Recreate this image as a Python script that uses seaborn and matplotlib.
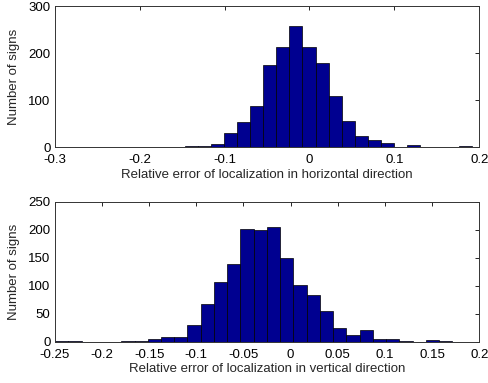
import numpy as np
import pandas as pd
import matplotlib
matplotlib.use("Agg")
import matplotlib.pyplot as plt
import seaborn as sns

# Histogram counts (30 bins each)
horiz_counts = [1, 0, 0, 0, 1, 1, 0, 1, 2, 3, 6, 30, 53, 87, 174, 212, 257, 213,
                179, 108, 56, 23, 16, 8, 1, 4, 0, 1, 0, 3]
vert_counts = [1, 1, 0, 0, 0, 1, 1, 5, 8, 9, 29, 67, 107, 138, 201, 199, 204, 149,
               101, 83, 55, 25, 12, 20, 5, 4, 1, 0, 3, 1]

# Data range of each histogram (min, max)
horiz_range = (-0.27, 0.192)
vert_range = (-0.2497, 0.1715)

horiz_xticks = [-0.3, -0.2, -0.1, 0, 0.1, 0.2]
horiz_yticks = [0, 100, 200, 300]
vert_xticks = [-0.25, -0.2, -0.15, -0.1, -0.05, 0, 0.05, 0.1, 0.15, 0.2]
vert_yticks = [0, 50, 100, 150, 200, 250]

sns.set_style("white")
plt.rcParams["font.family"] = ["Liberation Sans", "DejaVu Sans"]
plt.rcParams["axes.unicode_minus"] = False

FACE = "#000090"
FS = 9.5

fig = plt.figure(figsize=(4.89, 3.83), dpi=100)
ax1 = fig.add_axes([0.112, 0.616, 0.868, 0.368])
ax2 = fig.add_axes([0.112, 0.108, 0.868, 0.3655])


def fmt(v):
    return f"{v:g}"


def draw(ax, counts, rng, xticks, yticks, xlabel):
    edges = np.linspace(rng[0], rng[1], len(counts) + 1)
    centers = (edges[:-1] + edges[1:]) / 2
    df = pd.DataFrame({"x": centers, "n": counts})
    sns.histplot(data=df, x="x", weights="n", bins=list(edges), ax=ax,
                 color=FACE, alpha=1, edgecolor="black", linewidth=0.5)
    ax.set_xlim(xticks[0], xticks[-1])
    ax.set_ylim(yticks[0], yticks[-1])
    ax.set_xticks(xticks)
    ax.set_xticklabels([fmt(v) for v in xticks])
    ax.set_yticks(yticks)
    ax.set_yticklabels([fmt(v) for v in yticks], va="center_baseline")
    ax.tick_params(direction="in", length=3, width=0.6, top=True, right=True,
                   labelsize=FS, colors="black")
    ax.tick_params(axis="x", pad=5)
    ax.tick_params(axis="y", pad=3)
    for sp in ax.spines.values():
        sp.set_visible(True)
        sp.set_color("#333333")
        sp.set_linewidth(0.7)
    ax.set_xlabel(xlabel, fontsize=FS, labelpad=2)
    ax.set_ylabel("Number of signs", fontsize=FS, labelpad=6)


draw(ax1, horiz_counts, horiz_range, horiz_xticks, horiz_yticks,
     "Relative error of localization in horizontal direction")
draw(ax2, vert_counts, vert_range, vert_xticks, vert_yticks,
     "Relative error of localization in vertical direction")

fig.savefig("out.png", dpi=100)
